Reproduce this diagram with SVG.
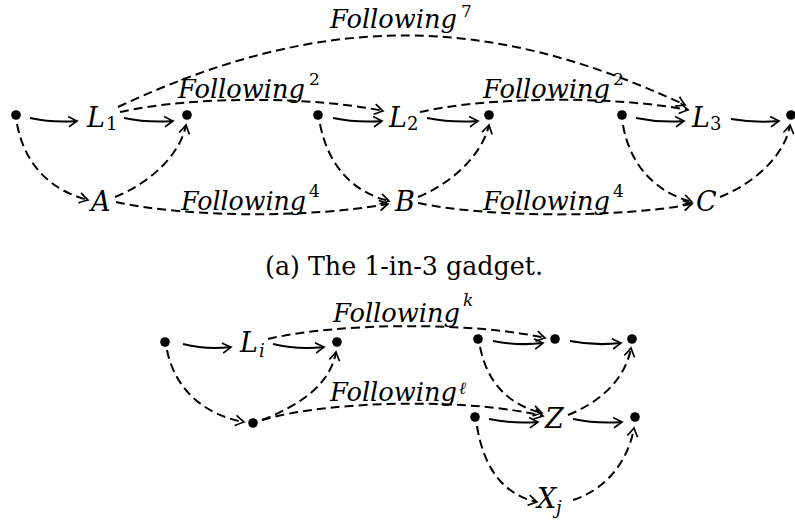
<svg xmlns="http://www.w3.org/2000/svg" width="795" height="523" viewBox="0 0 795 523">
<style>
.dot{fill:#000}
.e{fill:none;stroke:#000;stroke-width:2;marker-end:url(#arr)}
.d{stroke-dasharray:9 5}
.m{font-style:italic;font-size:27px}
.f{font-style:italic;font-size:26px}
.s{font-size:17px}
.sb{font-size:18px}
.si{font-style:italic;font-size:17px}
.sbi{font-style:italic;font-size:18px}
.cap{font-size:26px}
</style>
<defs>
<marker id="arr" markerWidth="14" markerHeight="14" refX="11" refY="7" orient="auto" markerUnits="userSpaceOnUse" viewBox="0 0 14 14" overflow="visible">
<path d="M2.5,1.8 Q8.5,5.6 11,7 Q8.5,8.4 2.5,12.2" fill="none" stroke="#000" stroke-width="1.7" stroke-dasharray="none"/>
</marker>
</defs>

<g id="connectors">
<path class="e" d="M30,118 Q53,123 77,121"/>
<path class="e" d="M124,118 Q148,123 173,121"/>
<path class="e" d="M333,118 Q357,123 382,121"/>
<path class="e" d="M427,118 Q452,123 478,121"/>
<path class="e" d="M636,118 Q660,123 684,121"/>
<path class="e" d="M731,119 Q755,123 779,121"/>
<path class="e d" d="M118,107 C319,13 484,11 685,105"/>
<path class="e d" d="M120,112 C190,96 313,96 383,111"/>
<path class="e d" d="M420,112 C490,96 618,96 688,110"/>
<path class="e d" d="M17,124 C25,165 50,190 88,200"/>
<path class="e d" d="M115,197 C150,183 180,155 186,125"/>
<path class="e d" d="M320,124 C328,165 352,192 389,201"/>
<path class="e d" d="M418,197 C452,183 482,155 489,125"/>
<path class="e d" d="M623,125 C630,165 655,192 692,202"/>
<path class="e d" d="M720,197 C755,183 785,155 790,125"/>
<path class="e d" d="M116,202 C190,218 310,218 388,204"/>
<path class="e d" d="M418,203 C490,218 620,218 692,204"/>
<path class="e" d="M183,344 Q207,350 231,347"/>
<path class="e" d="M273,344 Q298,350 324,347"/>
<path class="e" d="M493,341 Q518,346 543,343"/>
<path class="e" d="M570,341 Q595,346 621,343"/>
<path class="e" d="M489,419 Q513,424 538,422"/>
<path class="e" d="M573,419 Q597,424 622,422"/>
<path class="e d" d="M268,339 C340,322 475,322 545,338"/>
<path class="e d" d="M167,350 C175,390 205,415 244,422"/>
<path class="e d" d="M262,420 C300,405 330,385 336,352"/>
<path class="e d" d="M262,420 C330,400 470,398 543,416"/>
<path class="e d" d="M480,347 C488,385 510,405 542,413"/>
<path class="e d" d="M568,415 C600,402 625,380 631,348"/>
<path class="e d" d="M477,426 C484,470 505,495 537,502"/>
<path class="e d" d="M573,500 C605,490 628,462 634,428"/>
</g>

<g font-family="DejaVu Serif, serif" fill="#000">
<g id="edge-labels">
<text class="f" x="330" y="28" textLength="127" lengthAdjust="spacingAndGlyphs">Following</text><text class="s" x="461" y="17">7</text>
<text class="f" x="178" y="98" textLength="127" lengthAdjust="spacingAndGlyphs">Following</text><text class="s" x="309" y="85">2</text>
<text class="f" x="483" y="98" textLength="127" lengthAdjust="spacingAndGlyphs">Following</text><text class="s" x="613" y="85">2</text>
<text class="f" x="181" y="210" textLength="125" lengthAdjust="spacingAndGlyphs">Following</text><text class="s" x="309" y="197">4</text>
<text class="f" x="483" y="210" textLength="127" lengthAdjust="spacingAndGlyphs">Following</text><text class="s" x="613" y="197">4</text>
<text class="f" x="333" y="322" textLength="127" lengthAdjust="spacingAndGlyphs">Following</text><text class="si" x="463" y="306">k</text>
<text class="f" x="330" y="401" textLength="127" lengthAdjust="spacingAndGlyphs">Following</text><text class="si" x="459" y="394">ℓ</text>
</g>

<g id="n-top-1"><circle class="dot" cx="16" cy="115" r="4.8"/></g>
<g id="n-L1"><text class="m" x="87" y="127">L</text><text class="sb" x="106" y="130">1</text></g>
<g id="n-top-2"><circle class="dot" cx="187" cy="115" r="4.8"/></g>
<g id="n-top-3"><circle class="dot" cx="318" cy="115" r="4.8"/></g>
<g id="n-L2"><text class="m" x="389" y="127">L</text><text class="sb" x="407" y="130">2</text></g>
<g id="n-top-4"><circle class="dot" cx="489" cy="115" r="4.8"/></g>
<g id="n-top-5"><circle class="dot" cx="622" cy="115" r="4.8"/></g>
<g id="n-L3"><text class="m" x="692" y="127">L</text><text class="sb" x="710" y="130">3</text></g>
<g id="n-top-6"><circle class="dot" cx="791" cy="115" r="4.8"/></g>
<g id="n-A"><text class="m" x="91" y="211">A</text></g>
<g id="n-B"><text class="m" x="395" y="211">B</text></g>
<g id="n-C"><text class="m" x="696" y="211">C</text></g>

<g id="caption"><text class="cap" x="265" y="275" textLength="278" lengthAdjust="spacingAndGlyphs">(a) The 1-in-3 gadget.</text></g>

<g id="n-bot-a"><circle class="dot" cx="165" cy="342" r="4.8"/></g>
<g id="n-Li"><text class="m" x="240" y="352">L</text><text class="sbi" x="259" y="357">i</text></g>
<g id="n-bot-b"><circle class="dot" cx="337" cy="342" r="4.8"/></g>
<g id="n-bot-c"><circle class="dot" cx="478" cy="339" r="4.8"/></g>
<g id="n-bot-d"><circle class="dot" cx="555" cy="339" r="4.8"/></g>
<g id="n-bot-e"><circle class="dot" cx="632" cy="339" r="4.8"/></g>
<g id="n-bot-f"><circle class="dot" cx="253" cy="423" r="4.8"/></g>
<g id="n-bot-g"><circle class="dot" cx="475" cy="417" r="4.8"/></g>
<g id="n-Z"><text class="m" x="545" y="428">Z</text></g>
<g id="n-bot-h"><circle class="dot" cx="635" cy="417" r="4.8"/></g>
<g id="n-Xj"><text class="m" x="537" y="508">X</text><text class="sbi" x="556" y="514">j</text></g>
</g>
</svg>
